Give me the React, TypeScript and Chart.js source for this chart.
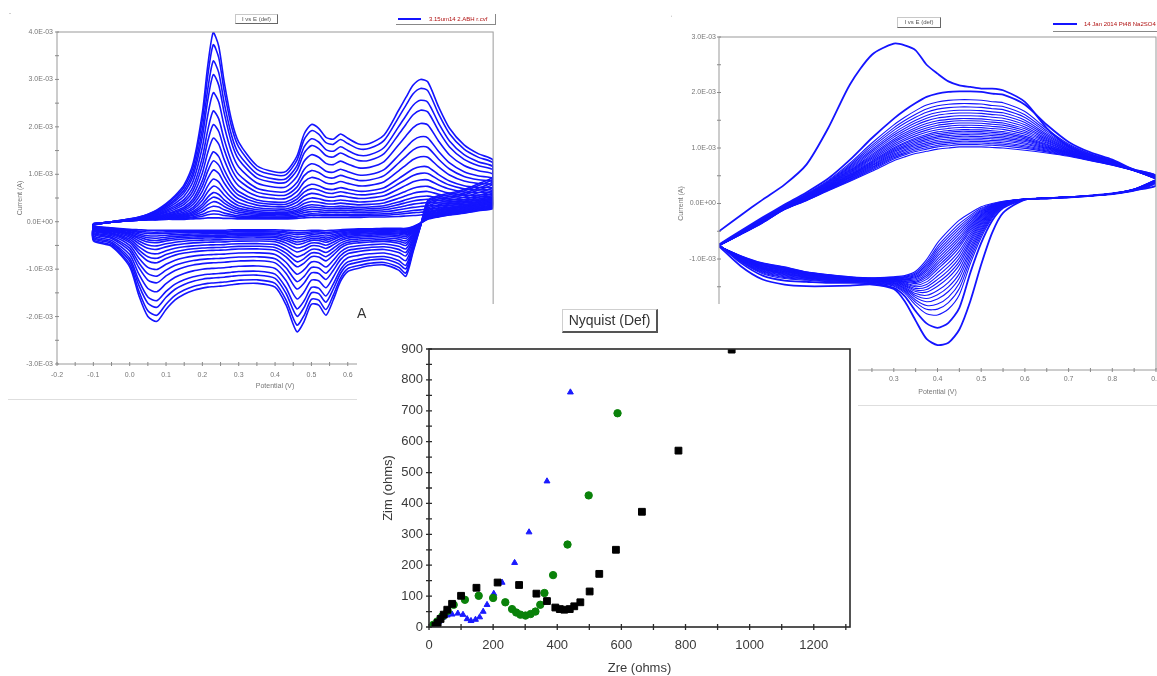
import React, { useEffect, useRef } from "react";
import { Chart, registerables } from "chart.js";

Chart.register(...registerables);

const FONT = "'Liberation Sans', Arial, Helvetica, sans-serif";
const CV_BLUE = "#1414ff";

// ---------------- Left CV (I vs E) ----------------
const cvA_potentials = [
  -0.1, -0.05, 0, 0.025, 0.05, 0.075, 0.1, 0.125, 0.15, 0.175,
  0.2, 0.215, 0.23, 0.245, 0.26, 0.28, 0.3, 0.35, 0.4, 0.43,
  0.46, 0.48, 0.5, 0.52, 0.54, 0.56, 0.58, 0.6, 0.63, 0.66,
  0.7, 0.74, 0.76, 0.78, 0.8, 0.82, 0.85, 0.88, 0.92, 0.96, 1.0,
];
// currents in mA (labels shown as E-03 A)
const cvA_outerAnodic = [
  -0.04, 0.0, 0.06, 0.1, 0.16, 0.25, 0.38, 0.55, 0.78, 1.25,
  2.3, 3.3, 3.99, 3.7, 2.95, 2.15, 1.68, 1.18, 1.05, 1.06,
  1.38, 1.85, 2.05, 1.97, 1.78, 1.74, 1.85, 1.76, 1.64, 1.65,
  1.83, 2.35, 2.62, 2.88, 3.0, 2.95, 2.42, 1.97, 1.62, 1.43, 1.3,
];
const cvA_outerCathodic = [
  -0.4, -0.52, -0.95, -1.55, -2.0, -2.1, -1.85, -1.65, -1.53, -1.45,
  -1.4, -1.38, -1.37, -1.36, -1.35, -1.33, -1.31, -1.3, -1.38, -1.75,
  -2.32, -2.1, -1.74, -1.76, -1.97, -1.65, -1.26, -1.05, -0.98, -0.93,
  -0.91, -1.02, -1.15, -0.63, -0.1, 0.45, 0.55, 0.6, 0.68, 0.8, 0.95,
];
const cvA_innerAnodic = [
  -0.06, -0.01, 0.02, 0.03, 0.04, 0.04, 0.05, 0.05, 0.05, 0.06,
  0.07, 0.08, 0.08, 0.08, 0.07, 0.07, 0.06, 0.06, 0.06, 0.06,
  0.07, 0.08, 0.09, 0.09, 0.09, 0.09, 0.09, 0.09, 0.09, 0.1,
  0.1, 0.11, 0.12, 0.13, 0.14, 0.16, 0.2, 0.24, 0.28, 0.33, 0.38,
];
const cvA_innerCathodic = [
  -0.09, -0.13, -0.16, -0.17, -0.18, -0.18, -0.18, -0.18, -0.18, -0.18,
  -0.18, -0.18, -0.18, -0.18, -0.18, -0.17, -0.17, -0.17, -0.17, -0.18,
  -0.19, -0.19, -0.18, -0.18, -0.19, -0.18, -0.17, -0.16, -0.15, -0.15,
  -0.14, -0.14, -0.14, -0.1, -0.03, 0.05, 0.1, 0.14, 0.18, 0.23, 0.28,
];
// anodic peak current at 0.8 V for each cycle (mA)
const cvA_cyclePeaks = [3.0, 2.81, 2.56, 2.35, 2.07, 1.79, 1.58, 1.37, 1.16, 1.02, 0.88, 0.74, 0.63, 0.53, 0.46, 0.39, 0.32, 0.25, 0.2, 0.14];
const cvA_xTicks = [-0.2, -0.15, -0.1, -0.05, 0, 0.05, 0.1, 0.15, 0.2, 0.25, 0.3, 0.35, 0.4, 0.45, 0.5, 0.55, 0.6, 0.65, 0.7, 0.75, 0.8, 0.85, 0.9, 0.95, 1.0];
const cvA_yTicks = [-3, -2.5, -2, -1.5, -1, -0.5, 0, 0.5, 1, 1.5, 2, 2.5, 3, 3.5, 4];

// ---------------- Right CV (I vs E) ----------------
const cvB_potentials = [
  -0.1, -0.05, 0, 0.05, 0.1, 0.15, 0.2, 0.25, 0.3, 0.325,
  0.35, 0.375, 0.4, 0.425, 0.45, 0.475, 0.5, 0.525, 0.55, 0.6,
  0.65, 0.7, 0.75, 0.8, 0.85, 0.9,
];
const cvB_firstAnodic = [
  -0.5, -0.21, 0.07, 0.34, 0.7, 1.36, 2.15, 2.68, 2.88, 2.85,
  2.76, 2.5, 2.34, 2.2, 2.13, 2.1, 2.07, 2.07, 2.04, 1.83,
  1.36, 1.03, 0.85, 0.73, 0.61, 0.5,
];
const cvB_firstCathodic = [
  -0.77, -1.13, -1.37, -1.46, -1.49, -1.49, -1.48, -1.46, -1.54, -1.76,
  -2.11, -2.44, -2.55, -2.51, -2.27, -1.76, -1.1, -0.53, -0.17, 0.07,
  0.09, 0.11, 0.14, 0.18, 0.24, 0.32,
];
const cvB_outerAnodic = [
  -0.74, -0.49, -0.25, -0.02, 0.2, 0.45, 0.79, 1.18, 1.53, 1.68,
  1.81, 1.92, 1.98, 2.01, 2.02, 2.02, 2.01, 1.98, 1.96, 1.78,
  1.42, 1.11, 0.92, 0.79, 0.61, 0.5,
];
const cvB_outerCathodic = [
  -0.74, -1.07, -1.3, -1.39, -1.41, -1.43, -1.43, -1.44, -1.52, -1.67,
  -1.94, -2.16, -2.24, -2.15, -1.88, -1.25, -0.71, -0.31, -0.08, 0.07,
  0.09, 0.11, 0.14, 0.17, 0.23, 0.37,
];
const cvB_innerAnodic = [
  -0.76, -0.56, -0.35, -0.11, 0.05, 0.23, 0.4, 0.58, 0.77, 0.84,
  0.9, 0.94, 0.98, 1.0, 1.02, 1.02, 1.02, 1.01, 1.0, 0.96,
  0.91, 0.85, 0.77, 0.69, 0.59, 0.44,
];
const cvB_innerCathodic = [
  -0.77, -0.94, -1.07, -1.14, -1.23, -1.28, -1.32, -1.34, -1.32, -1.3,
  -1.22, -1.01, -0.71, -0.49, -0.3, -0.17, -0.06, 0.0, 0.04, 0.08,
  0.1, 0.12, 0.14, 0.18, 0.26, 0.43,
];
// anodic peak current near 0.45 V for cycles 2..N (mA)
const cvB_cyclePeaks = [2.02, 1.87, 1.8, 1.74, 1.68, 1.63, 1.58, 1.53, 1.49, 1.45, 1.41, 1.37, 1.33, 1.3, 1.27, 1.24, 1.21, 1.18, 1.15, 1.12, 1.09, 1.06, 1.02];
const cvB_xTicks = [-0.1, -0.05, 0, 0.05, 0.1, 0.15, 0.2, 0.25, 0.3, 0.35, 0.4, 0.45, 0.5, 0.55, 0.6, 0.65, 0.7, 0.75, 0.8, 0.85, 0.9];
const cvB_yTicks = [-3, -2.5, -2, -1.5, -1, -0.5, 0, 0.5, 1, 1.5, 2, 2.5, 3];

// ---------------- Nyquist ----------------
const nyqBlackZre = [20, 27, 36, 46, 57, 72, 100, 148, 214, 281, 335, 368, 394, 408, 422, 439, 453, 472, 501, 531, 583, 664, 778, 944];
const nyqBlackZim = [4, 13, 26, 40, 56, 75, 101, 127, 144, 136, 108, 84, 63, 58, 56, 58, 67, 80, 115, 172, 250, 373, 571, 898];
const nyqGreenZre = [13, 26, 41, 58, 77, 112, 155, 200, 238, 259, 272, 285, 301, 317, 332, 347, 360, 387, 432, 498, 588];
const nyqGreenZim = [7, 18, 34, 52, 72, 88, 101, 94, 80, 58, 47, 40, 37, 42, 50, 72, 110, 168, 267, 426, 692];
const nyqBlueZre = [10, 20, 31, 44, 57, 72, 90, 106, 119, 131, 145, 158, 169, 181, 202, 228, 267, 312, 368, 441];
const nyqBlueZim = [2, 7, 18, 31, 38, 41, 44, 40, 26, 20, 24, 32, 50, 72, 108, 144, 208, 307, 472, 760];
const nyqXTicks = [0, 100, 200, 300, 400, 500, 600, 700, 800, 900, 1000, 1100, 1200, 1300];
const nyqYTicks = [0, 50, 100, 150, 200, 250, 300, 350, 400, 450, 500, 550, 600, 650, 700, 750, 800, 850, 900];

// ---------------- helpers ----------------
type Pt = { x: number; y: number };

function mixCycle(E: number[], oA: number[], oC: number[], iA: number[], iC: number[], w: number): Pt[] {
  const up = E.map((e, i) => ({ x: e, y: iA[i] + w * (oA[i] - iA[i]) }));
  const down = E.map((e, i) => ({ x: e, y: iC[i] + w * (oC[i] - iC[i]) })).reverse();
  return [...up, ...down, up[0]];
}

function fmtCurrent(v: number) {
  const r = Math.round(v * 10) / 10;
  if (Math.abs(r - Math.round(r)) > 1e-6) return "";
  const n = Math.round(r);
  if (n === 0) return "0.0E+00";
  return n.toFixed(1) + "E-03";
}
function fmtPotential(v: number) {
  const r = Math.round(v * 100);
  if (Math.abs(r % 10) !== 0) return "";
  const s = (r / 100).toFixed(1);
  return s === "-0.0" ? "0.0" : s;
}

function makeScale(o: {
  axis: "x" | "y"; min: number; max: number; ticks: number[]; fmt: (v: number) => string;
  title: string; size: number; labelPad: number; titlePad: number; fontSize: number; titleSize: number; color: string;
}) {
  return {
    type: "linear",
    position: o.axis === "x" ? "bottom" : "left",
    min: o.min,
    max: o.max,
    afterBuildTicks: (s: any) => { s.ticks = o.ticks.map((value) => ({ value })); },
    afterFit: (s: any) => { if (o.axis === "x") s.height = o.size; else s.width = o.size; },
    grid: { display: false, drawTicks: false },
    border: { display: false },
    ticks: {
      autoSkip: false, maxRotation: 0, minRotation: 0, padding: o.labelPad, color: o.color,
      font: { family: FONT, size: o.fontSize },
      callback: (v: any) => o.fmt(Number(v)),
    },
    title: {
      display: true, text: o.title, color: o.color,
      font: { family: FONT, size: o.titleSize },
      padding: o.axis === "x" ? { top: 0, bottom: o.titlePad } : { top: o.titlePad, bottom: 0 },
    },
  };
}

function framePlugin(o: { frame: string; frameWidth: number; tick: string; tickLen: number; tickWidth: number }) {
  return {
    id: "frameTicks",
    afterDatasetsDraw(chart: any) {
      const { ctx, chartArea: a, scales } = chart;
      ctx.save();
      ctx.strokeStyle = o.frame;
      ctx.lineWidth = o.frameWidth;
      ctx.strokeRect(a.left, a.top, a.right - a.left, a.bottom - a.top);
      ctx.strokeStyle = o.tick;
      ctx.lineWidth = o.tickWidth;
      ctx.beginPath();
      for (const t of scales.x.ticks) {
        const p = scales.x.getPixelForValue(t.value);
        ctx.moveTo(p, a.bottom - o.tickLen);
        ctx.lineTo(p, a.bottom + o.tickLen);
      }
      for (const t of scales.y.ticks) {
        const p = scales.y.getPixelForValue(t.value);
        ctx.moveTo(a.left - o.tickLen, p);
        ctx.lineTo(a.left + o.tickLen, p);
      }
      ctx.stroke();
      ctx.restore();
    },
  };
}

const cvFrame = () => framePlugin({ frame: "#9a9a9a", frameWidth: 1, tick: "#8a8a8a", tickLen: 2, tickWidth: 1 });

function cvAConfig(): any {
  const iPk = cvA_potentials.indexOf(0.8);
  const oPk = cvA_outerAnodic[iPk];
  const inPk = cvA_innerAnodic[iPk];
  const datasets = cvA_cyclePeaks.map((p) => ({
    data: mixCycle(cvA_potentials, cvA_outerAnodic, cvA_outerCathodic, cvA_innerAnodic, cvA_innerCathodic, (p - inPk) / (oPk - inPk)),
    showLine: true, borderColor: CV_BLUE, borderWidth: 1.6, pointRadius: 0, tension: 0.25, fill: false,
  }));
  return {
    type: "scatter",
    data: { datasets },
    options: {
      responsive: false, animation: false,
      layout: { padding: { top: 32, right: 7, left: 0, bottom: 0 } },
      plugins: { legend: { display: false }, tooltip: { enabled: false }, title: { display: false } },
      scales: {
        x: makeScale({ axis: "x", min: -0.2, max: 1.0, ticks: cvA_xTicks, fmt: fmtPotential, title: "Potential (V)", size: 36, labelPad: 7, titlePad: 10, fontSize: 7, titleSize: 7, color: "#777" }),
        y: makeScale({ axis: "y", min: -3, max: 4, ticks: cvA_yTicks, fmt: fmtCurrent, title: "Current (A)", size: 57, labelPad: 4, titlePad: 16, fontSize: 7, titleSize: 7, color: "#777" }),
      },
    },
    plugins: [cvFrame()],
  };
}

function cvBConfig(): any {
  const iPk = cvB_potentials.indexOf(0.45);
  const oPk = cvB_outerAnodic[iPk];
  const inPk = cvB_innerAnodic[iPk];
  const first = [
    ...cvB_potentials.map((e, i) => ({ x: e, y: cvB_firstAnodic[i] })),
    ...cvB_potentials.map((e, i) => ({ x: e, y: cvB_firstCathodic[i] })).reverse(),
  ];
  const datasets: any[] = [
    { data: first, showLine: true, borderColor: CV_BLUE, borderWidth: 1.8, pointRadius: 0, tension: 0.25, fill: false },
  ];
  cvB_cyclePeaks.forEach((p, k) => {
    datasets.push({
      data: mixCycle(cvB_potentials, cvB_outerAnodic, cvB_outerCathodic, cvB_innerAnodic, cvB_innerCathodic, (p - inPk) / (oPk - inPk)),
      showLine: true, borderColor: CV_BLUE, borderWidth: k === 0 ? 1.8 : 1.1, pointRadius: 0, tension: 0.25, fill: false,
    });
  });
  return {
    type: "scatter",
    data: { datasets },
    options: {
      responsive: false, animation: false,
      layout: { padding: { top: 37, right: 14, left: 0, bottom: 0 } },
      plugins: { legend: { display: false }, tooltip: { enabled: false }, title: { display: false } },
      scales: {
        x: makeScale({ axis: "x", min: -0.1, max: 0.9, ticks: cvB_xTicks, fmt: fmtPotential, title: "Potential (V)", size: 34, labelPad: 5, titlePad: 8, fontSize: 7, titleSize: 7, color: "#777" }),
        y: makeScale({ axis: "y", min: -3, max: 3, ticks: cvB_yTicks, fmt: fmtCurrent, title: "Current (A)", size: 59, labelPad: 3, titlePad: 17, fontSize: 7, titleSize: 7, color: "#777" }),
      },
    },
    plugins: [cvFrame()],
  };
}

function nyqConfig(): any {
  const pts = (xs: number[], ys: number[]) => xs.map((x, i) => ({ x, y: ys[i] }));
  return {
    type: "scatter",
    data: {
      datasets: [
        { label: "black", data: pts(nyqBlackZre, nyqBlackZim), pointStyle: "rect", pointRadius: 4.8, backgroundColor: "#000", borderColor: "#000", pointBorderWidth: 1 },
        { label: "green", data: pts(nyqGreenZre, nyqGreenZim), pointStyle: "circle", pointRadius: 3.7, backgroundColor: "#0a820a", borderColor: "#0a820a", pointBorderWidth: 1 },
        { label: "blue", data: pts(nyqBlueZre, nyqBlueZim), pointStyle: "triangle", pointRadius: 3.4, backgroundColor: "#1a1aff", borderColor: "#1a1aff", pointBorderWidth: 1 },
      ],
    },
    options: {
      responsive: false, animation: false,
      layout: { padding: { top: 45, right: 8, left: 0, bottom: 0 } },
      plugins: { legend: { display: false }, tooltip: { enabled: false }, title: { display: false } },
      scales: {
        x: makeScale({ axis: "x", min: 0, max: 1313, ticks: nyqXTicks, fmt: (v) => (v % 200 === 0 && v <= 1200 ? String(v) : ""), title: "Zre (ohms)", size: 49, labelPad: 11, titlePad: 0, fontSize: 13, titleSize: 13, color: "#3a3a3a" }),
        y: makeScale({ axis: "y", min: 0, max: 900, ticks: nyqYTicks, fmt: (v) => (v % 100 === 0 ? String(v) : ""), title: "Zim (ohms)", size: 72, labelPad: 6, titlePad: 24, fontSize: 13, titleSize: 13, color: "#3a3a3a" }),
      },
    },
    plugins: [framePlugin({ frame: "#2a2a2a", frameWidth: 1.6, tick: "#2a2a2a", tickLen: 3, tickWidth: 1.3 })],
  };
}

function ChartCanvas(props: { make: () => any; left: number; top: number; width: number; height: number }) {
  const ref = useRef<HTMLCanvasElement | null>(null);
  useEffect(() => {
    const chart = new Chart(ref.current as HTMLCanvasElement, props.make());
    return () => chart.destroy();
  }, []);
  return (
    <canvas
      ref={ref}
      width={props.width}
      height={props.height}
      style={{ position: "absolute", left: props.left, top: props.top, width: props.width, height: props.height, display: "block" }}
    />
  );
}

const abs = (s: React.CSSProperties): React.CSSProperties => ({ position: "absolute", ...s });

export default function App() {
  useEffect(() => {
    document.body.style.margin = "0";
  }, []);
  const tiny: React.CSSProperties = { fontSize: 6, lineHeight: "8px", whiteSpace: "nowrap", fontFamily: FONT };
  return (
    <div style={{ position: "absolute", left: 0, top: 0, width: 1157, height: 676, overflow: "hidden", background: "#fff", fontFamily: FONT }}>
      {/* Left CV */}
      <ChartCanvas make={cvAConfig} left={0} top={0} width={505} height={400} />
      <div style={abs({ ...tiny, left: 9, top: 9, color: "#888" })}>-</div>
      <div style={abs({ ...tiny, left: 235, top: 14, width: 41, height: 8, border: "1px solid #c8c8c8", borderRightColor: "#666", borderBottomColor: "#666", textAlign: "center", color: "#555" })}>I vs E (def)</div>
      <div style={abs({ left: 396, top: 14, width: 99, height: 10, borderBottom: "1px solid #888", borderRight: "1px solid #888" })} />
      <div style={abs({ left: 398, top: 18, width: 23, height: 2, background: CV_BLUE })} />
      <div style={abs({ ...tiny, left: 429, top: 15, color: "#b01010" })}>3.15um14 2.ABH r.cvf</div>
      <div style={abs({ left: 8, top: 399, width: 349, height: 1, background: "#dedede" })} />

      {/* Right CV */}
      <ChartCanvas make={cvBConfig} left={660} top={0} width={510} height={404} />
      <div style={abs({ ...tiny, left: 671, top: 14, color: "#888" })}>ʻ</div>
      <div style={abs({ ...tiny, left: 897, top: 17, width: 42, height: 9, border: "1px solid #c8c8c8", borderRightColor: "#666", borderBottomColor: "#666", textAlign: "center", color: "#555", lineHeight: "9px" })}>I vs E (def)</div>
      <div style={abs({ left: 1053, top: 23, width: 24, height: 2, background: CV_BLUE })} />
      <div style={abs({ ...tiny, left: 1084, top: 20, color: "#b01010" })}>14 Jan 2014 Pt48 Na2SO4 E</div>
      <div style={abs({ left: 1053, top: 31, width: 110, height: 1, background: "#888" })} />
      <div style={abs({ left: 858, top: 405, width: 299, height: 1, background: "#dedede" })} />

      {/* Nyquist panel on top */}
      <div style={abs({ left: 357, top: 304, width: 501, height: 372, background: "#fff", zIndex: 2 })}>
        <ChartCanvas make={nyqConfig} left={0} top={0} width={501} height={372} />
        <div style={abs({ left: 0, top: 2, fontSize: 14, lineHeight: "14px", color: "#333", fontFamily: FONT })}>A</div>
        <div style={abs({ left: 205, top: 5, width: 93, height: 21, border: "1px solid #cfcfcf", borderRight: "2px solid #555", borderBottom: "2px solid #555", textAlign: "center", fontSize: 14, lineHeight: "21px", color: "#333", fontFamily: FONT, boxSizing: "content-box" })}>Nyquist (Def)</div>
      </div>
    </div>
  );
}
